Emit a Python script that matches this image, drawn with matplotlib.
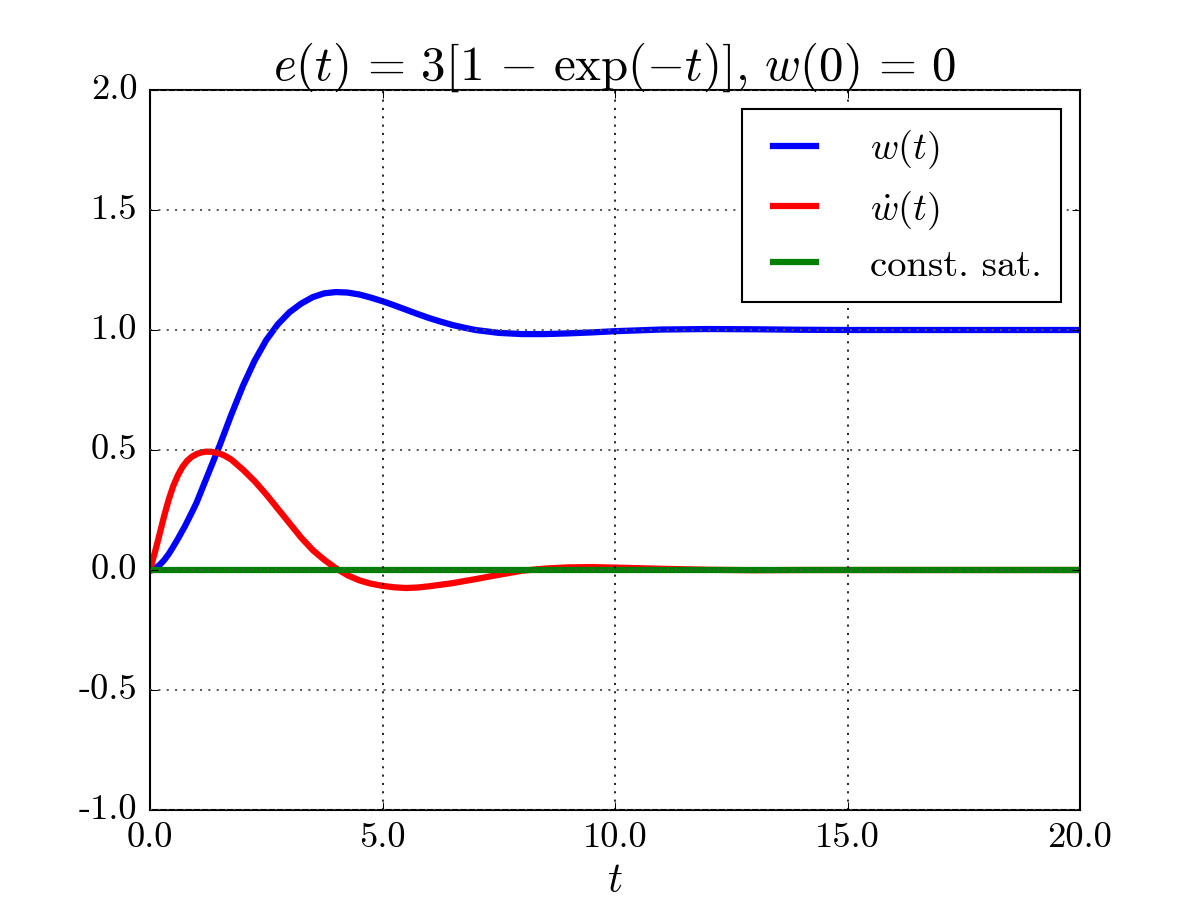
import matplotlib
matplotlib.use("Agg")
import matplotlib.pyplot as plt

plt.style.use("classic")
plt.rcParams["mathtext.fontset"] = "cm"
plt.rcParams["font.family"] = "serif"
plt.rcParams["font.serif"] = ["cmr10", "DejaVu Serif"]
plt.rcParams["axes.unicode_minus"] = False
plt.rcParams["axes.formatter.use_mathtext"] = True

# w(t)
t_w = [0, 0.1, 0.2, 0.3, 0.4, 0.5, 0.6, 0.75, 0.9, 1.0, 1.25, 1.5, 1.75, 2.0,
       2.25, 2.5, 2.75, 3.0, 3.25, 3.5, 3.75, 4.0, 4.25, 4.5, 4.75, 5.0, 5.25,
       5.5, 5.75, 6.0, 6.25, 6.5, 6.75, 7.0, 7.5, 8.0, 8.5, 9.0, 9.5,
       10.0, 11.0, 12.0, 13.0, 14.0, 15.0, 16.0, 17.0, 18.0, 19.0, 20.0]
w_vals = [0.0, 0.005, 0.02, 0.04, 0.066, 0.097, 0.13, 0.182, 0.24, 0.28, 0.40,
          0.52, 0.648, 0.768, 0.872, 0.958, 1.024, 1.074, 1.11, 1.137, 1.153,
          1.158, 1.156, 1.148, 1.135, 1.12, 1.103, 1.085, 1.067, 1.05, 1.035,
          1.021, 1.01, 1.0, 0.988, 0.983, 0.983, 0.986, 0.99, 0.995, 1.002,
          1.004, 1.003, 1.001, 1.0, 1.0, 1.0, 1.0, 1.0, 1.0]

# w'(t)
t_wd = [0, 0.05, 0.1, 0.15, 0.2, 0.3, 0.4, 0.5, 0.6, 0.7, 0.8, 0.9, 1.0, 1.1,
        1.2, 1.3, 1.4, 1.5, 1.6, 1.75, 2.0, 2.25, 2.5, 2.75, 3.0, 3.25, 3.5,
        3.75, 4.0, 4.25, 4.5, 4.75, 5.0, 5.25, 5.5, 5.75, 6.0, 6.5, 7.0, 7.5,
        8.0, 8.5, 9.0, 9.5, 10.0, 11.0, 12.0, 13.0, 14.0, 15.0, 16.0, 17.0,
        18.0, 19.0, 20.0]
wd_vals = [0.0, 0.035, 0.07, 0.107, 0.145, 0.222, 0.292, 0.35, 0.395, 0.43,
           0.455, 0.472, 0.483, 0.49, 0.493, 0.493, 0.49, 0.485, 0.477, 0.46,
           0.418, 0.37, 0.315, 0.255, 0.195, 0.135, 0.083, 0.042, 0.007, -0.022,
           -0.043, -0.057, -0.066, -0.072, -0.075, -0.073, -0.068, -0.055,
           -0.038, -0.02, -0.003, 0.006, 0.011, 0.012, 0.01, 0.005, 0.001,
           -0.001, 0.0, 0.0, 0.0, 0.0, 0.0, 0.0, 0.0]

# constraint saturation
t_sat = [0.0, 20.0]
sat_vals = [0.0, 0.0]

x_ticks = [0, 5, 10, 15, 20]
x_labels = ["0.0", "5.0", "10.0", "15.0", "20.0"]
y_ticks = [-1.0, -0.5, 0.0, 0.5, 1.0, 1.5, 2.0]
y_labels = ["-1.0", "-0.5", "0.0", "0.5", "1.0", "1.5", "2.0"]

fig = plt.figure(figsize=(8, 6), dpi=150, facecolor="white")
ax = fig.add_axes([0.125, 0.1, 0.775, 0.8])

ax.plot(t_w, w_vals, color="b", lw=3, label=r"$w(t)$", solid_joinstyle="round")
ax.plot(t_wd, wd_vals, color="r", lw=3, label=r"$\dot{w}(t)$", solid_joinstyle="round")
ax.plot(t_sat, sat_vals, color="g", lw=3, label="const. sat.")

ax.set_xlim(0, 20)
ax.set_ylim(-1, 2)
ax.set_xticks(x_ticks)
ax.set_xticklabels(x_labels, fontsize=17.5)
ax.set_yticks(y_ticks)
ax.set_yticklabels(y_labels, fontsize=17.5)
ax.tick_params(pad=6)
ax.xaxis.grid(True, color="black", linestyle=":", lw=0.8)
ax.yaxis.grid(True, color="#555555", linestyle=":", lw=0.9)
ax.set_xlabel(r"$t$", fontsize=20, labelpad=4)
ax.set_title(r"$e(t)\,=\,3[1\,-\,\exp(-t)]$, $w(0)\,=\,0$", fontsize=23.5, y=1.0)

leg = ax.legend(loc="upper right", fontsize=18.5, fancybox=False, framealpha=1,
                handlelength=1.7, borderpad=0.5, labelspacing=0.45, handletextpad=1.1,
                borderaxespad=0.5)
leg.get_frame().set_edgecolor("black")

fig.savefig("out.png", dpi=150, facecolor="white")
